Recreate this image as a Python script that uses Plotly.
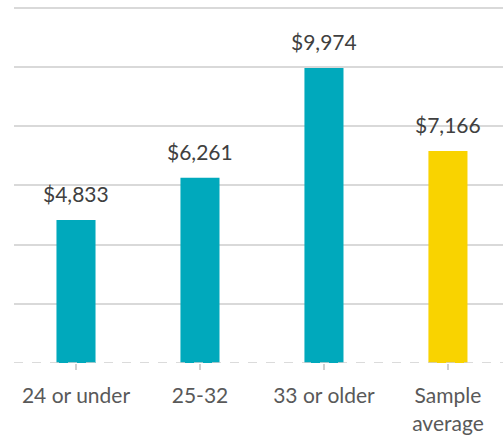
import plotly.graph_objects as go

categories = ["24 or under", "25-32", "33 or older", "Sample<br>average"]
values = [4833, 6261, 9974, 7166]
bar_colors = ["#00A9BC", "#00A9BC", "#00A9BC", "#F9D300"]
grid_vals = [2000, 4000, 6000, 8000, 10000, 12000]

FONT = "Lato, Carlito, sans-serif"

fig = go.Figure()
fig.add_trace(go.Bar(x=categories, y=values, marker=dict(color=bar_colors, line=dict(width=0)),
                     width=0.315, hoverinfo="skip"))

for c, v in zip(categories, values):
    fig.add_annotation(x=c, y=v, text="${:,}".format(v), showarrow=False,
                       yanchor="bottom", yshift=12,
                       font=dict(family=FONT, size=21, color="#404040"))

fig.add_shape(type="line", xref="paper", yref="y", x0=0, x1=1, y0=0, y1=0,
              line=dict(color="#D0D0D0", width=1.5, dash="dash"), layer="above")

fig.update_layout(
    width=503, height=436,
    margin=dict(l=14, r=0, t=5, b=73),
    paper_bgcolor="white", plot_bgcolor="white",
    showlegend=False,
    xaxis=dict(range=[-0.5, 3.444], showgrid=False, zeroline=False, showline=False,
               automargin=False,
               ticks="outside", ticklen=6, tickcolor="#D0D0D0", tickwidth=1.5,
               ticklabelstandoff=8,
               tickfont=dict(family=FONT, size=21, color="#595959")),
    yaxis=dict(range=[0, 12100], tickvals=grid_vals, showticklabels=False,
               automargin=False,
               showgrid=True, gridcolor="#D9D9D9", gridwidth=1.5, zeroline=False,
               showline=False),
)

fig.write_html("out.html", config={"displayModeBar": False},
               post_script="document.body.style.margin='0px';")
